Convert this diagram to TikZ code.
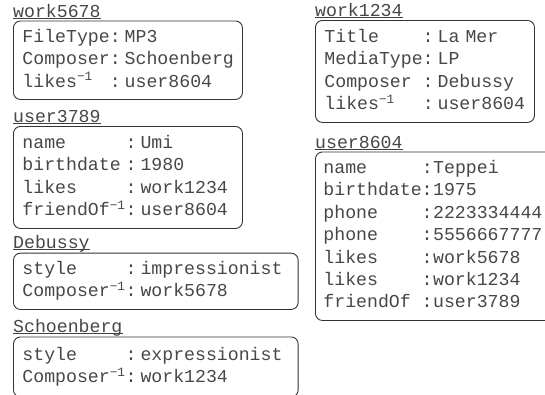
\documentclass[tikz,border=0pt]{standalone}
\usepackage{fontspec}
\newfontfamily\monofam{Liberation Mono}
\newcommand\recfont{\monofam\fontsize{18.2}{22.4}\selectfont}
\newcommand\invx{\textsuperscript{−1}}
\newenvironment{kv}[1][4pt]{\begin{tabular}{@{}l@{}l@{\hspace{#1}}l@{}}}{\end{tabular}}
\begin{document}
\begin{tikzpicture}[x=1pt,y=-1pt,
  rec/.style={draw=black!80, line width=0.9pt, rounded corners=7pt, anchor=north west,
    align=left, inner xsep=9pt, inner ysep=0pt, font=\recfont, text=black!72},
  ttl/.style={anchor=base west, inner sep=0pt, font=\recfont, text=black!72},
  ul/.style={draw=black!75, line width=0.8pt}]
\useasboundingbox (0,0) rectangle (545,394);
\clip (0,0) rectangle (545,394);

% work5678
\node[rec, text width=211pt, minimum height=78.5pt] (work5678) at (13,20.5) {\begin{kv}
FileType & : & MP3\\
Composer & : & Schoenberg\\
likes\invx & : & user8604
\end{kv}};
\node[ttl] (t5678) at (13,17) {work5678};
\draw[ul] ([yshift=-1.3pt]t5678.base west) -- ([yshift=-1.3pt]t5678.base east);

% work1234
\node[rec, text width=201pt, minimum height=102pt] (work1234) at (315,20) {\begin{kv}
Title & : & La Mer\\
MediaType & : & LP\\
Composer & : & Debussy\\
likes\invx & : & user8604
\end{kv}};
\node[ttl] (t1234) at (315,16.5) {work1234};
\draw[ul] ([yshift=-1.3pt]t1234.base west) -- ([yshift=-1.3pt]t1234.base east);

% user3789
\node[rec, text width=211pt, minimum height=102pt] (user3789) at (13,126) {\begin{kv}
name & : & Umi\\
birthdate & : & 1980\\
likes & : & work1234\\
friendOf\invx & : & user8604
\end{kv}};
\node[ttl] (t3789) at (13,122.5) {user3789};
\draw[ul] ([yshift=-1.3pt]t3789.base west) -- ([yshift=-1.3pt]t3789.base east);

% user8604
\node[rec, text width=227pt, minimum height=168.5pt, inner xsep=8pt] (user8604) at (315,151.5) {\begin{kv}[0.5pt]
name & : & Teppei\\
birthdate & : & 1975\\
phone & : & 2223334444\\
phone & : & 5556667777\\
likes & : & work5678\\
likes & : & work1234\\
friendOf & : & user3789
\end{kv}};
\node[ttl] (t8604) at (315,148) {user8604};
\draw[ul] ([yshift=-1.3pt]t8604.base west) -- ([yshift=-1.3pt]t8604.base east);

% Debussy
\node[rec, text width=266.7pt, minimum height=56.3pt] (debussy) at (13,252.7) {\begin{kv}
style & : & impressionist\\
Composer\invx & : & work5678
\end{kv}};
\node[ttl] (tdeb) at (13,248.5) {Debussy};
\draw[ul] ([yshift=-1.3pt]tdeb.base west) -- ([yshift=-1.3pt]tdeb.base east);

% Schoenberg
\node[rec, text width=266.7pt, minimum height=60pt] (schoenberg) at (13,336.5) {\begin{kv}
style & : & expressionist\\
Composer\invx & : & work1234
\end{kv}};
\node[ttl] (tsch) at (13,332) {Schoenberg};
\draw[ul] ([yshift=-1.3pt]tsch.base west) -- ([yshift=-1.3pt]tsch.base east);
\end{tikzpicture}
\end{document}
